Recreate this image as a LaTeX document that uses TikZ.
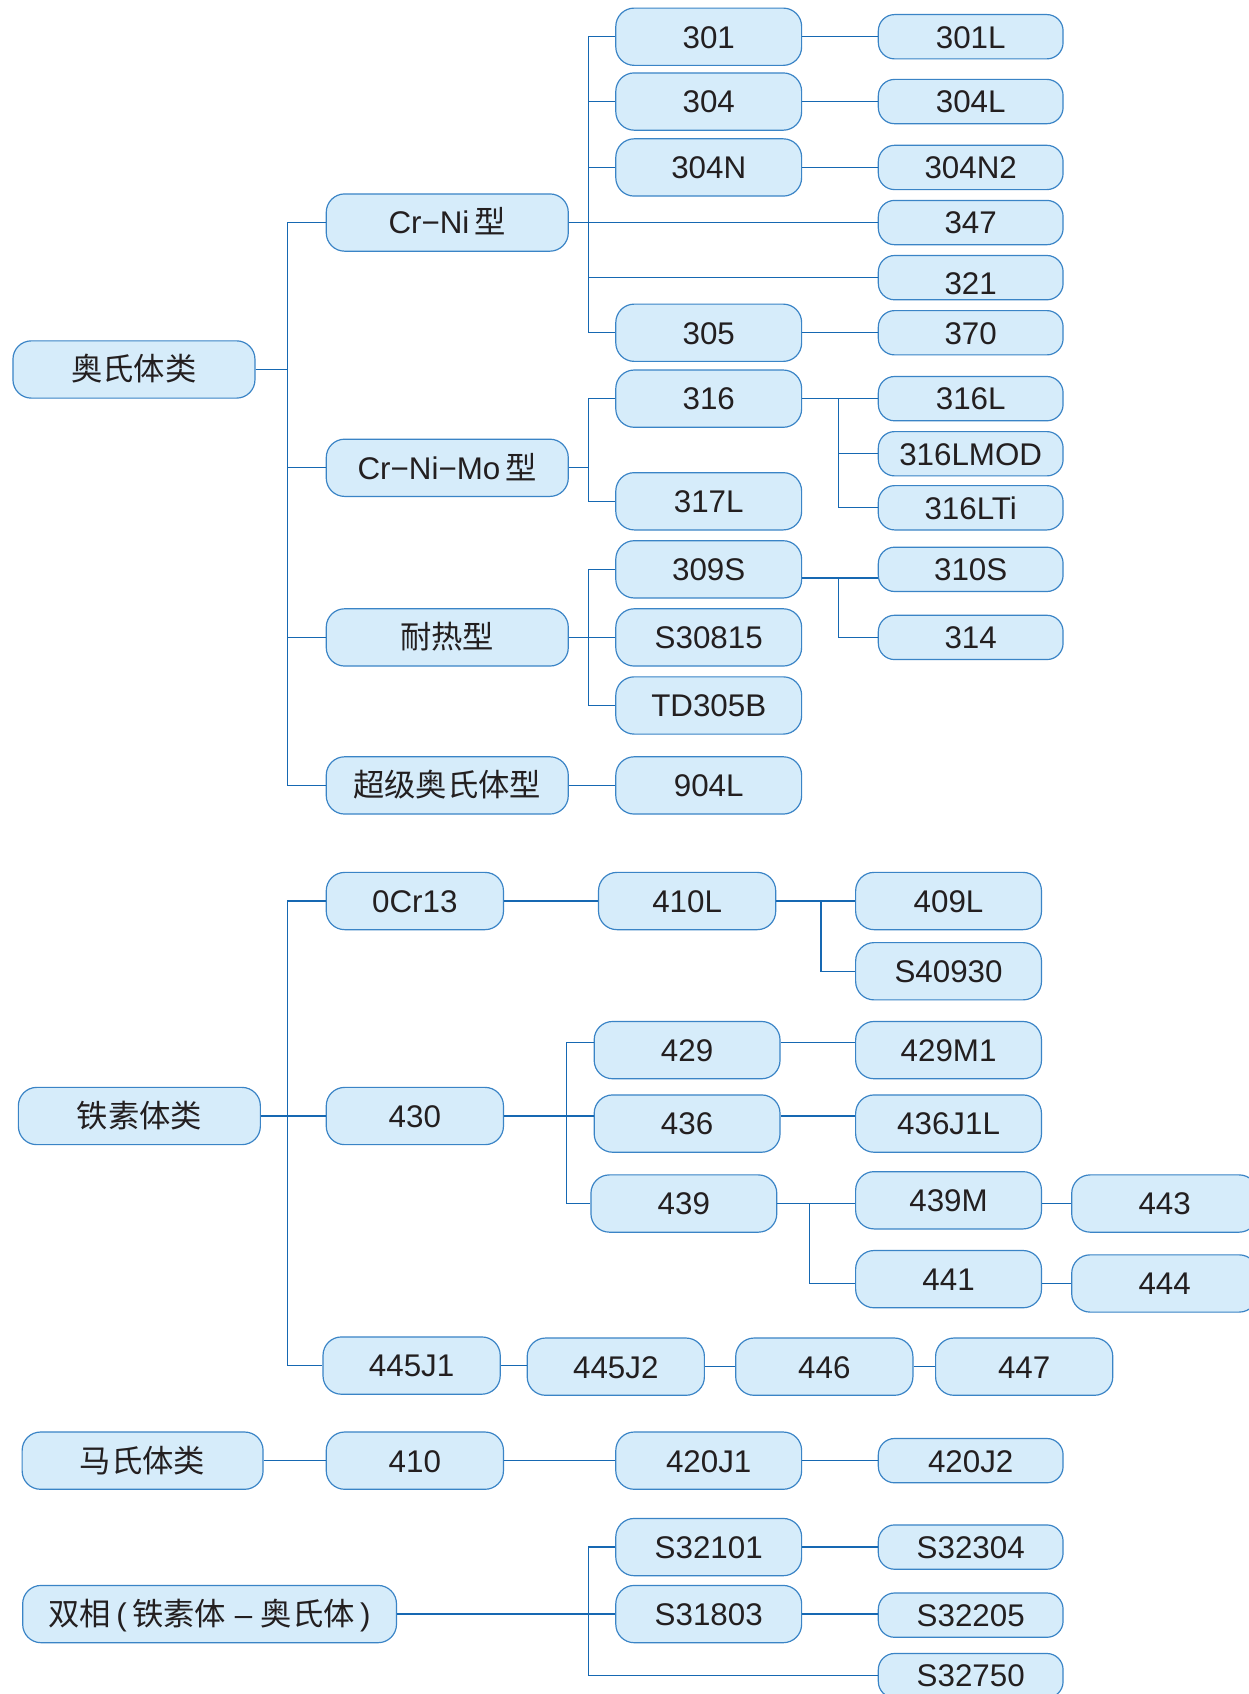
\documentclass[tikz,border=0pt]{standalone}
\usepackage{fontspec}
\setmainfont{Liberation Sans}
\newfontfamily\cjk{Noto Sans CJK SC}
\definecolor{boxfill}{RGB}{214,236,250}
\definecolor{boxline}{RGB}{58,132,198}
\definecolor{wire}{RGB}{22,104,178}
\definecolor{txt}{RGB}{35,31,32}
\begin{document}
\begin{tikzpicture}[x=1pt,y=-1pt,
  box/.style={draw=boxline, fill=boxfill, line width=1.1pt, rounded corners=17pt,
    inner sep=0pt, text=txt, font=\fontsize{29}{34}\selectfont,
    text height=21pt, text depth=0pt},
  bigbox/.style={box, minimum height=53pt},
  smallbox/.style={box, minimum height=41pt, minimum width=171pt, rounded corners=15pt},
  conn/.style={draw=wire, line width=1.1pt}]
\useasboundingbox (0,0) rectangle (1156,1568);
\fill[white] (0,0) rectangle (1156,1568);
\clip (0,0) rectangle (1156,1568);

% bus coordinates
\coordinate (bA) at (266,0);
\coordinate (bB) at (545,0);
\coordinate (bC) at (776,0);
\coordinate (bD) at (760,0);
\coordinate (bE) at (524,0);
\coordinate (bF) at (749,0);

% ---------- Austenite ----------
\node[bigbox,minimum width=224pt] (aus) at (124,342) {\cjk 奥氏体类};
\node[bigbox,minimum width=224pt] (crni) at (414,206) {Cr−Ni\,{\cjk 型}};
\node[bigbox,minimum width=224pt] (crmo) at (414,433) {Cr−Ni−Mo\,{\cjk 型}};
\node[bigbox,minimum width=224pt] (heat) at (414,590) {\cjk 耐热型};
\node[bigbox,minimum width=224pt] (super) at (414,727) {\cjk 超级奥氏体型};

\node[bigbox,minimum width=172pt] (n301) at (656,34) {301};
\node[bigbox,minimum width=172pt] (n304) at (656,94) {304};
\node[bigbox,minimum width=172pt] (n304N) at (656,155) {304N};
\node[bigbox,minimum width=172pt] (n305) at (656,308) {305};
\node[bigbox,minimum width=172pt] (n316) at (656,369) {316};
\node[bigbox,minimum width=172pt] (n317L) at (656,464) {317L};
\node[bigbox,minimum width=172pt] (n309S) at (656,527) {309S};
\node[bigbox,minimum width=172pt] (nS30815) at (656,590) {S30815};
\node[bigbox,minimum width=172pt] (nTD) at (656,653) {TD305B};
\node[bigbox,minimum width=172pt] (n904L) at (656,727) {904L};

\node[smallbox] (n301L) at (898.5,34) {301L};
\node[smallbox] (n304L) at (898.5,94) {304L};
\node[smallbox] (n304N2) at (898.5,155) {304N2};
\node[smallbox] (n347) at (898.5,206) {347};
\node[smallbox] (n321) at (898.5,257) {\raisebox{-5pt}{321}};
\node[smallbox] (n370) at (898.5,308) {370};
\node[smallbox] (n316L) at (898.5,369) {316L};
\node[smallbox] (n316LMOD) at (898.5,420) {316LMOD};
\node[smallbox] (n316LTi) at (898.5,470) {316LTi};
\node[smallbox] (n310S) at (898.5,527) {310S};
\node[smallbox] (n314) at (898.5,590) {314};

% ---------- Ferrite ----------
\node[bigbox,minimum width=224pt] (fer) at (129,1033) {\cjk 铁素体类};
\node[bigbox,minimum width=164pt] (n0Cr13) at (384,834) {0Cr13};
\node[bigbox,minimum width=164pt] (n430) at (384,1033) {430};
\node[bigbox,minimum width=164pt] (n445J1) at (381,1264) {445J1};
\node[bigbox,minimum width=164pt] (n410L) at (636,834) {410L};
\node[bigbox,minimum width=172pt] (n409L) at (878,834) {409L};
\node[bigbox,minimum width=172pt] (nS40930) at (878,899) {S40930};
\node[bigbox,minimum width=172pt] (n429) at (636,972) {429};
\node[bigbox,minimum width=172pt] (n436) at (636,1040) {436};
\node[bigbox,minimum width=172pt] (n439) at (633,1114) {439};
\node[bigbox,minimum width=172pt] (n429M1) at (878,972) {429M1};
\node[bigbox,minimum width=172pt] (n436J1L) at (878,1040) {436J1L};
\node[bigbox,minimum width=172pt] (n439M) at (878,1111) {439M};
\node[bigbox,minimum width=172pt] (n441) at (878,1184) {441};
\node[bigbox,minimum width=172pt] (n443) at (1078,1114) {443};
\node[bigbox,minimum width=172pt] (n444) at (1078,1188) {444};
\node[bigbox,minimum width=164pt] (n445J2) at (570,1265) {445J2};
\node[bigbox,minimum width=164pt] (n446) at (763,1265) {446};
\node[bigbox,minimum width=164pt] (n447) at (948,1265) {447};

% ---------- Martensite ----------
\node[bigbox,minimum width=223pt] (mar) at (132,1352) {\cjk 马氏体类};
\node[bigbox,minimum width=164pt] (n410) at (384,1352) {410};
\node[bigbox,minimum width=172pt] (n420J1) at (656,1352) {420J1};
\node[smallbox] (n420J2) at (898.5,1352) {420J2};

% ---------- Duplex ----------
\node[bigbox,minimum width=346pt] (dup) at (194,1494)
  {{\cjk 双相}\,(\,{\cjk 铁素体}\;–\;{\cjk 奥氏体}\,)};
\node[bigbox,minimum width=172pt] (nS32101) at (656,1432) {S32101};
\node[bigbox,minimum width=172pt] (nS31803) at (656,1494) {S31803};
\node[smallbox] (nS32304) at (898.5,1432) {S32304};
\node[smallbox] (nS32205) at (898.5,1495) {S32205};
\node[smallbox] (nS32750) at (898.5,1551) {S32750};

% ---------- Connectors ----------
% austenite
\foreach \c in {crni,crmo,heat,super}
  \draw[conn] (aus.east) -- (aus.east -| bA) |- (\c.west);
\foreach \c in {n301,n304,n304N,n347,n321,n305}
  \draw[conn] (crni.east) -- (crni.east -| bB) |- (\c.west);
\foreach \a/\b in {n301/n301L,n304/n304L,n304N/n304N2,n305/n370,super/n904L}
  \draw[conn] (\a.east) -- (\a.east -| \b.west);
\foreach \c in {n316,n317L}
  \draw[conn] (crmo.east) -- (crmo.east -| bB) |- (\c.west);
\foreach \c in {n316L,n316LMOD,n316LTi}
  \draw[conn] (n316.east) -- (n316.east -| bC) |- (\c.west);
\foreach \c in {n309S,nS30815,nTD}
  \draw[conn] (heat.east) -- (heat.east -| bB) |- (\c.west);
\draw[conn] ([yshift=-8pt]n309S.east) -- ([yshift=-8pt]n309S.east -| n310S.west);
\draw[conn] ([yshift=-8pt]n309S.east) -| (bC |- n314.west) -- (n314.west);

% ferrite
\foreach \c in {n0Cr13,n430,n445J1}
  \draw[conn] (fer.east) -- (fer.east -| bA) |- (\c.west);
\draw[conn] (n0Cr13.east) -- (n0Cr13.east -| n410L.west);
\foreach \c in {n409L,nS40930}
  \draw[conn] (n410L.east) -- (n410L.east -| bD) |- (\c.west);
\draw[conn] (n430.east) -- (n430.east -| bE) |- ([yshift=7pt]n429.west);
\draw[conn] (n430.east) -- (n430.east -| bE) |- ([yshift=7pt]n436.west);
\draw[conn] (n430.east) -- (n430.east -| bE) |- (n439.west);
\draw[conn] ([yshift=7pt]n429.east) -- ([yshift=7pt]n429.east -| n429M1.west);
\draw[conn] ([yshift=7pt]n436.east) -- ([yshift=7pt]n436.east -| n436J1L.west);
\draw[conn] (n439.east) -- (n439.east -| bF) |- ([yshift=-3pt]n439M.west);
\draw[conn] (n439.east) -- (n439.east -| bF) |- ([yshift=-4pt]n441.west);
\draw[conn] (n443.west) -- (n443.west -| n439M.east);
\draw[conn] (n444.west) -- (n444.west -| n441.east);
\foreach \a/\b in {n445J1/n445J2,n445J2/n446,n446/n447}
  \draw[conn] (\a.east) -- (\a.east -| \b.west);

% martensite
\foreach \a/\b in {mar/n410,n410/n420J1,n420J1/n420J2}
  \draw[conn] (\a.east) -- (\a.east -| \b.west);

% duplex
\foreach \c in {nS32101,nS31803,nS32750}
  \draw[conn] (dup.east) -- (dup.east -| bB) |- (\c.west);
\foreach \a/\b in {nS32101/nS32304,nS31803/nS32205}
  \draw[conn] (\a.east) -- (\a.east -| \b.west);
\end{tikzpicture}
\end{document}
